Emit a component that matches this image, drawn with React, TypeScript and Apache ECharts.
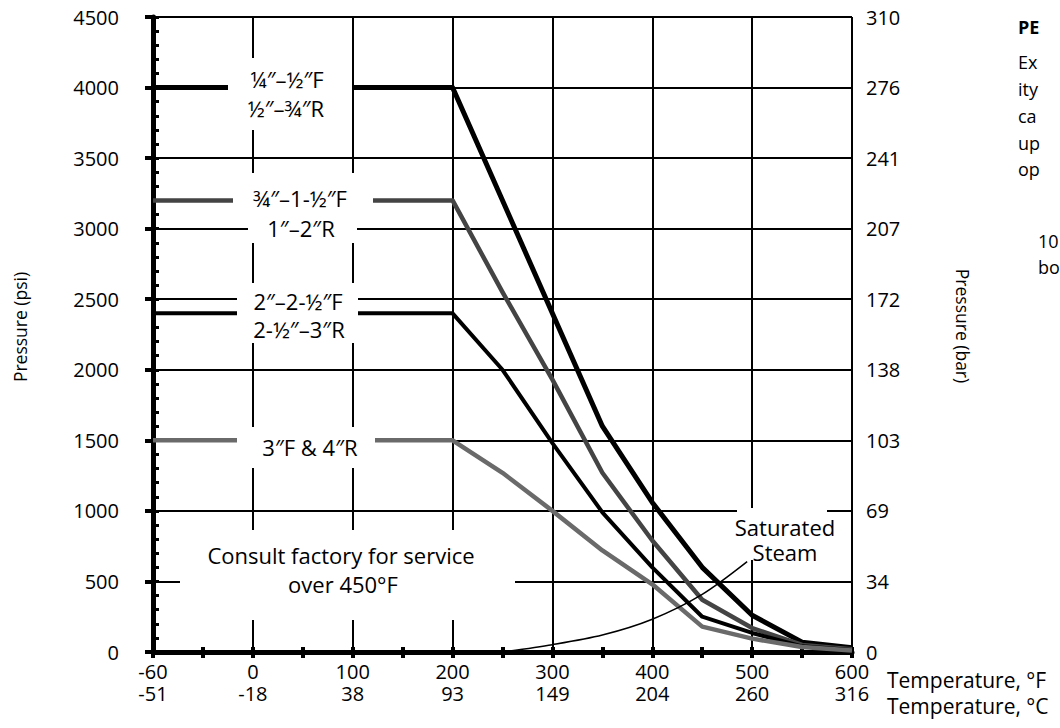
import React, { useEffect, useRef } from "react";
import * as echarts from "echarts";

// Tick labels
const tempF = ["-60", "0", "100", "200", "300", "400", "500", "600"];
const tempC = ["-51", "-18", "38", "93", "149", "204", "260", "316"];
const barLabels = ["0", "34", "69", "103", "138", "172", "207", "241", "276", "310"];

// Series values: [temperature °F, pressure psi]
const sizeQuarterHalf = [[-60, 4000], [200, 4000], [350, 1600], [400, 1060], [450, 600], [500, 260], [550, 70], [600, 30]];
const sizeThreeQuarterOneHalf = [[-60, 3200], [200, 3200], [250, 2550], [300, 1930], [350, 1270], [400, 790], [450, 370], [500, 170], [550, 50], [600, 20]];
const sizeTwoTwoHalf = [[-60, 2400], [200, 2400], [250, 2000], [300, 1480], [350, 990], [400, 600], [450, 250], [500, 135], [550, 40], [600, 15]];
const sizeThreeFour = [[-60, 1500], [200, 1500], [250, 1270], [300, 1000], [350, 720], [400, 480], [450, 180], [500, 95], [550, 35], [600, 10]];
const saturatedSteam = [[250, 0], [300, 52], [350, 120], [400, 232], [450, 408], [495, 640]];

const FONT = '"Open Sans", "Liberation Sans", sans-serif';

// the -60°F tick sits one full division left of 0°F
const toAxis = (f: number) => (f < 0 ? (f / 60) * 100 : f);
const mapData = (d: number[][]) => d.map(([f, p]) => [toAxis(f), p]);

export default function App() {
  const ref = useRef<HTMLDivElement>(null);
  useEffect(() => {
    if (!ref.current) return;
    const chart = echarts.init(ref.current, undefined, { renderer: "svg" });
    const txt = (text: string, x: number, y: number, size = 22, extra: any = {}) => ({
      type: "text",
      z: 101,
      style: {
        text, x, y, fill: "#000",
        font: `${size}px ${FONT}`,
        align: "center", verticalAlign: "middle",
        textAlign: "center", textVerticalAlign: "middle",
        ...extra,
      },
    });
    const rotTxt = (text: string, x: number, y: number, size: number, rotation: number) => ({
      type: "text", z: 101, x, y, rotation,
      style: {
        text, x: 0, y: 0, fill: "#000", font: `${size}px ${FONT}`,
        align: "center", verticalAlign: "middle", textAlign: "center", textVerticalAlign: "middle",
      },
    });
    const left = { align: "left", textAlign: "left" };
    const box = (x: number, y: number, w: number, h: number) => ({
      type: "rect", z: 100, shape: { x, y, width: w, height: h }, style: { fill: "#fff" },
    });
    const lineSeries = (name: string, data: number[][], color: string, width: number) => ({
      name, type: "line", data: mapData(data), showSymbol: false, symbol: "none",
      lineStyle: { color, width, cap: "butt", join: "round" }, z: 5, xAxisIndex: 0, yAxisIndex: 0,
    });
    chart.setOption({
      animation: false,
      backgroundColor: "#fff",
      grid: { left: 153, right: 208, top: 17, bottom: 76 },
      xAxis: [
        {
          type: "value", min: -100, max: 600, interval: 100,
          axisLine: { show: true, onZero: false, lineStyle: { color: "#000", width: 5 } },
          axisTick: { show: true, length: 6, lineStyle: { color: "#000", width: 4 } },
          minorTick: { show: true, splitNumber: 2, length: 6, lineStyle: { color: "#000", width: 4 } },
          splitLine: { show: true, showMinLine: false, lineStyle: { color: "#000", width: 2 } },
          axisLabel: {
            margin: 8, color: "#000", fontFamily: FONT, fontSize: 20, lineHeight: 22,
            formatter: (v: number) => {
              const i = Math.round((v + 100) / 100);
              return `${tempF[i]}\n${tempC[i]}`;
            },
          },
        },
        {
          type: "value", min: -100, max: 600, interval: 50, position: "bottom",
          axisLine: { show: false, onZero: false }, axisLabel: { show: false }, splitLine: { show: false },
          axisTick: { show: true, inside: true, length: 5, lineStyle: { color: "#000", width: 4 } },
        },
      ],
      yAxis: [
        {
          type: "value", min: 0, max: 4500, interval: 500, position: "left",
          axisLine: { show: true, onZero: false, lineStyle: { color: "#000", width: 5 } },
          axisTick: { show: true, length: 8, lineStyle: { color: "#000", width: 4 } },
          splitLine: { show: true, showMinLine: false, lineStyle: { color: "#000", width: 2 } },
          axisLabel: {
            margin: 34, color: "#000", fontFamily: FONT, fontSize: 20,
            formatter: (v: number) => String(v),
          },
        },
        {
          type: "value", min: 0, max: 4500, interval: 500, position: "right",
          axisLine: { show: false, onZero: false }, axisTick: { show: false }, splitLine: { show: false },
          axisLabel: {
            margin: 14, color: "#000", fontFamily: FONT, fontSize: 20,
            formatter: (v: number) => barLabels[Math.round(v / 500)],
          },
        },
        {
          type: "value", min: 0, max: 4500, interval: 100, position: "left",
          axisLine: { show: false, onZero: false }, axisLabel: { show: false }, splitLine: { show: false },
          axisTick: { show: true, inside: true, length: 6, lineStyle: { color: "#000", width: 3 } },
        },
      ],
      series: [
        lineSeries("¼″–½″F / ½″–¾″R", sizeQuarterHalf, "#000", 5),
        lineSeries("¾″–1-½″F / 1″–2″R", sizeThreeQuarterOneHalf, "#444", 4.5),
        lineSeries("2″–2-½″F / 2-½″–3″R", sizeTwoTwoHalf, "#000", 4),
        lineSeries("3″F & 4″R", sizeThreeFour, "#6a6a6a", 4.5),
        { ...lineSeries("Saturated Steam", saturatedSteam, "#000", 1.5), smooth: 0.3 },
      ],
      graphic: [
        box(228, 58, 124, 72),
        txt("¼″–½″F", 287, 79),
        txt("½″–¾″R", 286, 108),
        box(233, 173, 140, 40),
        box(248, 213, 109, 30),
        txt("¾″–1-½″F", 300, 198),
        txt("1″–2″R", 301, 228),
        box(237, 283, 121, 60),
        txt("2″–2-½″F", 298, 301),
        txt("2-½″–3″R", 299, 329),
        box(237, 427, 138, 41),
        txt("3″F & 4″R", 310, 447),
        box(180, 530, 335, 90),
        txt("Consult factory for service", 341, 555),
        txt("over 450°F", 343, 584),
        box(737, 508, 90, 52),
        txt("Saturated", 785, 527),
        txt("Steam", 785, 552),
        txt("Temperature, °F", 887, 680, 21, left),
        txt("Temperature, °C", 887, 706, 21, left),
        rotTxt("Pressure (psi)", 20, 327, 17.5, Math.PI / 2),
        rotTxt("Pressure (bar)", 963, 326, 17.5, -Math.PI / 2),
        txt("PE", 1018, 27, 18, { ...left, font: `bold 18px ${FONT}` }),
        txt("Ex", 1018, 62, 18, left),
        txt("ity", 1018, 89, 18, left),
        txt("ca", 1018, 116, 18, left),
        txt("up", 1018, 143, 18, left),
        txt("op", 1018, 169, 18, left),
        txt("10", 1038, 241, 18, left),
        txt("bo", 1038, 267, 18, left),
      ],
    });
    return () => chart.dispose();
  }, []);
  return (
    <div
      ref={ref}
      style={{ position: "absolute", left: 0, top: 0, width: 1060, height: 728, overflow: "hidden" }}
    />
  );
}
